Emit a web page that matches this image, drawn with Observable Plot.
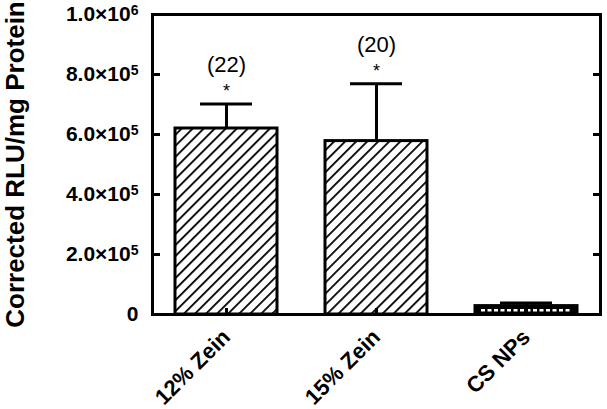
<!DOCTYPE html>
<html><head><meta charset="utf-8">
<script src="https://cdn.jsdelivr.net/npm/d3@7"></script>
<script src="https://cdn.jsdelivr.net/npm/@observablehq/plot@0.6"></script>
<style>
html,body{margin:0;padding:0;background:#fff;}
</style></head><body><div id="chart"></div>
<script>
const categories = ["12% Zein", "15% Zein", "CS NPs"];
const means = [620000, 578000, 28000];
const errTops = [702000, 769000, 38000];
const nLabels = ["(22)", "(20)", ""];
const stars = ["*", "*", ""];
const yTicks = [0, 200000, 400000, 600000, 800000, 1000000];
const yTitle = "Corrected RLU/mg Protein";

const data = categories.map((c, i) => ({cat: c, mean: means[i], err: errTops[i], n: nLabels[i], star: stars[i]}));
const hatched = data.filter(d => d.n !== "");
const dotted = data.filter(d => d.n === "");
const font = "'Liberation Sans', Arial, Helvetica, sans-serif";

function fmt(v) {
  if (v === 0) return "0";
  const e = Math.floor(Math.log10(v));
  return (v / 10 ** e).toFixed(1) + "×10^" + e;
}

const plot = Plot.plot({
  width: 607, height: 409,
  marginLeft: 152, marginRight: 7, marginTop: 14, marginBottom: 95,
  style: {fontFamily: font, background: "white", color: "black"},
  x: {domain: categories, paddingInner: 0.32, paddingOuter: 0.15, label: null},
  y: {domain: [0, 1e6], label: null},
  marks: [
    Plot.barY(hatched, {x: "cat", y: "mean", fill: "url(#hatch)", stroke: "black", strokeWidth: 3}),
    Plot.barY(dotted, {x: "cat", y: "mean", fill: "black", stroke: "black", strokeWidth: 3}),
    Plot.tickY(dotted, {x: "cat", y: d => d.mean / 2, stroke: "white", strokeWidth: 2.5, strokeDasharray: "4,2.5", insetLeft: 6, insetRight: 6}),
    Plot.ruleX(data, {x: "cat", y1: "mean", y2: "err", strokeWidth: 3}),
    Plot.tickY(data, {x: "cat", y: "err", strokeWidth: 3, insetLeft: 25, insetRight: 25}),
    Plot.text(hatched, {x: "cat", y: "err", text: "star", dy: -13, fontSize: 18}),
    Plot.text(hatched, {x: "cat", y: "err", text: "n", dy: -39, fontSize: 22}),
    Plot.frame({strokeWidth: 3}),
    Plot.axisY({ticks: yTicks, anchor: "left", tickSize: 8, dx: 8, strokeWidth: 3, fill: "none", label: null}),
    Plot.axisY({ticks: yTicks.slice(1, -1), anchor: "right", tickSize: 8, dx: -8, strokeWidth: 3, fill: "none", label: null}),
    Plot.axisY({ticks: yTicks, anchor: "left", tickSize: 0, tickPadding: 14, tickFormat: fmt, fontSize: 21, fontWeight: "bold", label: null}),
    Plot.axisX({anchor: "bottom", tickSize: 6, dy: -6, strokeWidth: 3, fill: "none", label: null}),
    Plot.axisX({anchor: "bottom", tickSize: 0, tickPadding: 19, tickRotate: -45, fontSize: 22, fontWeight: "bold", label: null}),
    Plot.text([yTitle], {frameAnchor: "left", textAnchor: "middle", rotate: -90, dx: -137, fontSize: 26, fontWeight: "bold"})
  ]
});

d3.select(plot).insert("defs", ":first-child").html(
  `<pattern id="hatch" patternUnits="userSpaceOnUse" width="7.8" height="7.8" patternTransform="rotate(45)">
     <rect width="7.8" height="7.8" fill="white"/>
     <line x1="0" y1="0" x2="0" y2="7.8" stroke="black" stroke-width="3.6"/>
   </pattern>`
);

// superscript exponents in y tick labels
d3.select(plot).selectAll("text").each(function () {
  const t = this.textContent;
  if (t.includes("×10^") && this.childElementCount === 0) {
    const [base, exp] = t.split("^");
    const sel = d3.select(this);
    sel.text(null);
    sel.append("tspan").text(base);
    sel.append("tspan").attr("dy", "-0.45em").attr("font-size", "14px").text(exp);
  }
});

document.getElementById("chart").append(plot);
</script>
</body></html>
